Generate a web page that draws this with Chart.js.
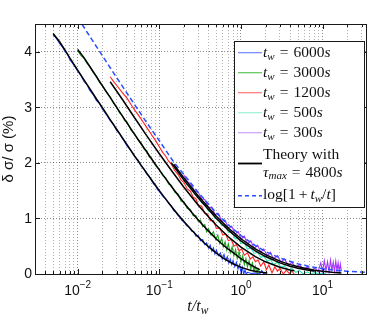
<!DOCTYPE html>
<html>
<head>
<meta charset="utf-8">
<script src="https://cdn.jsdelivr.net/npm/chart.js@4.4.1/dist/chart.umd.min.js"></script>
<style>
  html, body { margin: 0; padding: 0; background: #fff; }
  canvas { display: block; }
</style>
</head>
<body>
<canvas id="chart" width="374" height="321"></canvas>
<script>
// x = t/tw , y = delta sigma / sigma in %
const blueX = [0.005,0.0055,0.006,0.0065,0.007,0.0075,0.008,0.009,0.01,0.011,0.012,0.013,0.014,0.0155,0.017,0.0185,0.02,0.0225,0.025,0.0275,0.03,0.0325,0.035,0.0375,0.04,0.045,0.05,0.055,0.06,0.065,0.07,0.075,0.08,0.085,0.09,0.095,0.1,0.11,0.12,0.13,0.14,0.15,0.16,0.17,0.18,0.19,0.2,0.215,0.23,0.25,0.265,0.28,0.3,0.32,0.34,0.36,0.38,0.4,0.42,0.44,0.46,0.48,0.5,0.53,0.56,0.59,0.62,0.65,0.68,0.71,0.74,0.77,0.8,0.84,0.88,0.92,0.96,1.0,1.04,1.08,1.12,1.16,1.2,1.35,1.5,1.7,1.8,1.9,2.0];
const blueY = [4.30,4.24,4.15,4.09,4.00,3.96,3.86,3.76,3.65,3.57,3.46,3.41,3.31,3.23,3.12,3.07,2.97,2.87,2.76,2.69,2.58,2.53,2.45,2.38,2.31,2.22,2.11,2.05,1.94,1.89,1.80,1.76,1.69,1.62,1.59,1.52,1.49,1.40,1.35,1.27,1.23,1.14,1.11,1.05,1.02,0.96,0.95,0.87,0.85,0.77,0.76,0.68,0.69,0.60,0.62,0.53,0.56,0.47,0.52,0.41,0.47,0.36,0.43,0.33,0.38,0.27,0.35,0.24,0.31,0.20,0.27,0.17,0.24,0.13,0.21,0.09,0.17,0.04,0.12,0.00,0.07,0.00,0.03,0.01,0.02,0.00,0.06,0.00,0.03];

const greenX = [0.01,0.011,0.012,0.013,0.014,0.0155,0.017,0.0185,0.02,0.0225,0.025,0.0275,0.03,0.0325,0.035,0.0375,0.04,0.045,0.05,0.055,0.06,0.065,0.07,0.075,0.08,0.09,0.1,0.11,0.12,0.13,0.14,0.155,0.17,0.185,0.2,0.22,0.24,0.26,0.28,0.3,0.32,0.34,0.36,0.38,0.4,0.43,0.46,0.49,0.52,0.55,0.58,0.61,0.64,0.67,0.7,0.74,0.78,0.82,0.86,0.9,0.95,1.0,1.05,1.1,1.15,1.2,1.26,1.32,1.38,1.44,1.5,1.56,1.62,1.7];
const greenY = [4.02,3.93,3.88,3.79,3.74,3.63,3.56,3.45,3.40,3.27,3.19,3.07,3.01,2.90,2.86,2.76,2.74,2.59,2.52,2.41,2.36,2.25,2.22,2.11,2.09,1.95,1.88,1.77,1.73,1.62,1.60,1.47,1.44,1.31,1.30,1.18,1.16,1.05,1.05,0.95,0.97,0.85,0.89,0.76,0.82,0.70,0.76,0.62,0.70,0.55,0.64,0.49,0.58,0.43,0.54,0.38,0.49,0.33,0.44,0.28,0.40,0.22,0.33,0.17,0.28,0.13,0.24,0.09,0.20,0.06,0.14,0.03,0.09,0.02];

const redX = [0.025,0.028,0.031,0.035,0.04,0.045,0.05,0.056,0.063,0.07,0.08,0.09,0.1,0.11,0.12,0.13,0.14,0.155,0.17,0.185,0.2,0.22,0.24,0.26,0.28,0.3,0.33,0.36,0.39,0.42,0.46,0.5,0.55,0.6,0.65,0.7,0.76,0.82,0.88,0.95,1.02,1.1,1.2,1.3,1.4,1.5,1.62,1.75,1.9,2.05,2.2,2.4,2.6,2.8,3.0,3.3,3.6,3.9,4.2,4.5];
const redY = [3.55,3.45,3.37,3.27,3.17,3.05,2.95,2.85,2.74,2.64,2.51,2.40,2.29,2.19,2.12,2.03,1.98,1.86,1.79,1.69,1.65,1.53,1.49,1.38,1.36,1.24,1.22,1.09,1.08,0.96,0.96,0.82,0.83,0.70,0.72,0.60,0.62,0.50,0.53,0.42,0.45,0.34,0.38,0.27,0.31,0.22,0.25,0.14,0.22,0.08,0.16,0.02,0.13,0.05,0.10,0.00,0.07,0.01,0.05,0.00];

const cyanX = [0.14,0.155,0.17,0.185,0.2,0.22,0.24,0.27,0.3,0.33,0.36,0.4,0.44,0.48,0.53,0.58,0.64,0.7,0.77,0.85,0.93,1.0,1.1,1.2,1.32,1.45,1.6,1.75,1.9,2.1,2.3,2.5,2.8,3.1,3.4,3.8,4.2,4.7,5.2,5.8,6.5,7.2,8.0,9.0,10,11];
const cyanY = [2.02,1.90,1.86,1.75,1.72,1.60,1.57,1.44,1.40,1.28,1.26,1.13,1.12,1.00,1.00,0.87,0.88,0.75,0.76,0.63,0.64,0.55,0.56,0.45,0.47,0.37,0.39,0.30,0.32,0.23,0.26,0.17,0.21,0.12,0.15,0.07,0.10,0.03,0.06,0.00,0.04,0.00,0.03,0.00,0.02,0.00];

const purpleX = [0.2,0.22,0.24,0.27,0.3,0.33,0.36,0.4,0.44,0.48,0.53,0.58,0.64,0.7,0.77,0.85,0.93,1.0,1.1,1.2,1.32,1.45,1.6,1.75,1.9,2.1,2.3,2.5,2.8,3.1,3.4,3.8,4.2,4.7,5.2,5.8,6.5,7.2,8.0,8.8,9.5,10,10.5,11,11.5,12,12.5,13,13.5,14,14.5,15,15.5,16,16.5,17];
const purpleY = [1.78,1.66,1.63,1.50,1.47,1.35,1.34,1.20,1.20,1.07,1.09,0.95,0.97,0.83,0.86,0.72,0.76,0.63,0.68,0.54,0.60,0.46,0.52,0.39,0.45,0.33,0.39,0.27,0.33,0.21,0.27,0.16,0.21,0.12,0.17,0.08,0.13,0.06,0.11,0.04,0.20,0.05,0.24,0.06,0.22,0.04,0.25,0.07,0.21,0.05,0.23,0.06,0.20,0.04,0.18,0.05];

// theory curves, tau_max = 4800 s
const theory6000X = [0.005,0.006,0.007,0.008,0.01,0.012,0.014,0.017,0.02,0.025,0.03,0.035,0.04,0.05,0.06,0.07,0.08,0.09,0.1,0.12,0.14,0.17,0.2,0.25,0.3,0.35,0.4,0.45,0.5,0.6,0.7,0.8,0.9,1.0,1.15,1.3,1.6,2.1];
const theory6000Y = [4.33,4.18,4.03,3.89,3.67,3.49,3.34,3.15,3.00,2.78,2.605,2.458,2.332,2.12,1.956,1.816,1.697,1.593,1.50,1.347,1.22,1.066,0.944,0.786,0.665,0.567,0.49,0.43,0.377,0.291,0.230,0.185,0.150,0.1215,0.092,0.066,0.039,0.0175];
const theory3000X = [0.01,0.012,0.014,0.017,0.02,0.025,0.03,0.035,0.04,0.05,0.06,0.07,0.08,0.1,0.12,0.14,0.17,0.2,0.25,0.3,0.35,0.4,0.5,0.6,0.7,0.85,1.0,1.15,1.3,1.5,1.7];
const theory3000Y = [4.04,3.89,3.74,3.55,3.39,3.18,3.00,2.85,2.725,2.51,2.34,2.20,2.075,1.874,1.713,1.58,1.417,1.283,1.107,0.972,0.862,0.772,0.629,0.527,0.446,0.356,0.275,0.22,0.17,0.12,0.08];
const theory1200X = [0.025,0.035,0.05,0.07,0.1,0.14,0.2,0.3,0.4,0.5,0.7,1,1.5,2,3,4,4.5];
const theory1200Y = [3.46,3.15,2.808,2.49,2.165,1.868,1.562,1.238,1.029,0.877,0.671,0.4845,0.313,0.2195,0.121,0.073,0.058];
const theory500X = [0.14,0.2,0.3,0.5,0.7,1,1.5,2,3,4,5,6,8];
const theory500Y = [2.00,1.69,1.366,1.00,0.79,0.597,0.417,0.314,0.200,0.140,0.102,0.080,0.050];
const theory300X = [0.15,0.2,0.3,0.5,0.7,1,1.5,2,3,4,6,8,10,13,17];
const theory300Y = [1.976,1.73,1.405,1.038,0.827,0.634,0.452,0.3475,0.2316,0.169,0.103,0.066,0.050,0.032,0.018];

// log[1 + tw/t]
const logX = [0.01,0.015,0.02,0.03,0.05,0.07,0.1,0.15,0.2,0.3,0.5,0.7,1,1.5,2,3,5,7,10,15,20,35];
const logY = [4.615,4.215,3.932,3.536,3.045,2.725,2.398,2.015,1.792,1.466,1.099,0.887,0.693,0.511,0.405,0.288,0.182,0.134,0.0953,0.0645,0.0488,0.0282];

const decades = [0.001, 0.01, 0.1, 1, 10];
const mantissas = [1, 2, 3, 4, 5, 6, 7, 8, 9];
const xLabelExps = [-2, -1, 0, 1];
const yTicks = [0, 1, 2, 3, 4];
const twLabels = ['6000', '3000', '1200', '500', '300'];
const dataColors = ['#1f3dff', '#1ea01e', '#ff2020', '#36e2b4', '#a335ff'];
const legendColors = ['#6f86ff', '#5cc45c', '#ff7474', '#9cf2d8', '#cf9fff'];

const xMin = 0.003, xMax = 35;
const xGrid = [];
decades.forEach(d => mantissas.forEach(m => {
  const v = +(m * d).toPrecision(3);
  if (v >= xMin && v <= xMax) xGrid.push(v);
}));
const isDecade = v => decades.includes(v);

function pts(xs, ys) {
  return xs.map((x, i) => ({x: x, y: ys[i]}));
}

const seriesX = [blueX, greenX, redX, cyanX, purpleX];
const seriesY = [blueY, greenY, redY, cyanY, purpleY];
const datasets = [];
seriesX.forEach((xs, i) => {
  datasets.push({
    data: pts(xs, seriesY[i]),
    borderColor: dataColors[i],
    borderWidth: 1.1,
    order: 2 + (4 - i)
  });
});
[[theory6000X, theory6000Y], [theory3000X, theory3000Y], [theory1200X, theory1200Y],
 [theory500X, theory500Y], [theory300X, theory300Y]].forEach(c => {
  datasets.push({data: pts(c[0], c[1]), borderColor: '#000', borderWidth: 1.5, order: 1});
});
datasets.push({data: pts(logX, logY), borderColor: '#2a4dff', borderWidth: 1.5, borderDash: [5, 3], order: 0});

const SERIF = '"Liberation Serif", "DejaVu Serif", serif';
const SANS = '"Liberation Sans", Arial, sans-serif';

function rich(ctx, x, y, parts) {
  parts.forEach(p => {
    ctx.font = p.f;
    if (p.gap) x += p.gap;
    ctx.fillText(p.t, x, y + (p.dy || 0));
    x += ctx.measureText(p.t).width;
  });
  return x;
}

const it = s => 'italic ' + s + 'px ' + SERIF;
const rm = s => s + 'px ' + SERIF;
const FS = 15.5, SUB = 11;

const frame = {
  id: 'frame',
  afterDraw(chart) {
    const {ctx, chartArea: a, scales: {x, y}} = chart;
    ctx.save();
    ctx.strokeStyle = '#1a1a1a';
    ctx.lineWidth = 1;
    ctx.strokeRect(a.left + 0.5, a.top + 0.5, a.right - a.left - 1, a.bottom - a.top);

    // inward tick marks
    ctx.beginPath();
    xGrid.forEach(v => {
      const px = Math.round(x.getPixelForValue(v)) + 0.5;
      const len = isDecade(v) ? 5 : 3;
      ctx.moveTo(px, a.bottom); ctx.lineTo(px, a.bottom - len);
      ctx.moveTo(px, a.top); ctx.lineTo(px, a.top + len);
    });
    yTicks.forEach(v => {
      const py = Math.round(y.getPixelForValue(v)) + 0.5;
      ctx.moveTo(a.left, py); ctx.lineTo(a.left + 5, py);
      ctx.moveTo(a.right, py); ctx.lineTo(a.right - 5, py);
    });
    ctx.stroke();

    // tick labels
    ctx.fillStyle = '#111';
    ctx.textAlign = 'right';
    ctx.textBaseline = 'middle';
    ctx.font = '14px ' + SANS;
    yTicks.forEach(v => ctx.fillText(String(v), a.left - 3, y.getPixelForValue(v) + 0.5));

    ctx.textAlign = 'left';
    ctx.textBaseline = 'alphabetic';
    xLabelExps.forEach(e => {
      const px = x.getPixelForValue(Math.pow(10, e));
      const ex = e < 0 ? '\u2212' + (-e) : String(e);
      ctx.font = '14px ' + SANS;
      const w1 = ctx.measureText('10').width;
      ctx.font = '10px ' + SANS;
      const w2 = ctx.measureText(ex).width;
      const x0 = px - (w1 + w2) / 2;
      ctx.font = '14px ' + SANS;
      ctx.fillText('10', x0, 295);
      ctx.font = '10px ' + SANS;
      ctx.fillText(ex, x0 + w1, 288);
    });

    // axis titles
    ctx.font = it(16);
    const wt = ctx.measureText('t/t').width + 8;
    rich(ctx, 198 - wt / 2, 311, [
      {t: 't/t', f: it(16)},
      {t: 'w', f: it(11.5), dy: 3}
    ]);

    ctx.save();
    ctx.translate(13, (a.top + a.bottom) / 2);
    ctx.rotate(-Math.PI / 2);
    ctx.textAlign = 'center';
    ctx.font = '15px ' + SANS;
    ctx.fillText('\u03b4 \u03c3/ \u03c3 (%)', 0, 0);
    ctx.restore();

    // legend
    const lx = 234, ly = 41, lw = 131, lh = 167;
    ctx.fillStyle = '#fff';
    ctx.fillRect(lx, ly, lw, lh);
    ctx.strokeStyle = '#1a1a1a';
    ctx.lineWidth = 1;
    ctx.strokeRect(lx + 0.5, ly + 0.5, lw - 1, lh - 1);
    ctx.fillStyle = '#111';
    const sx0 = 238, sx1 = 262, tx = 263;
    twLabels.forEach((lab, i) => {
      const cy = 52.7 + i * 20;
      ctx.strokeStyle = legendColors[i];
      ctx.lineWidth = 1.2;
      ctx.beginPath(); ctx.moveTo(sx0, cy); ctx.lineTo(sx1, cy); ctx.stroke();
      rich(ctx, tx, cy + 4.5, [
        {t: 't', f: it(FS)},
        {t: 'w', f: it(SUB), dy: 2.5},
        {t: '=', f: rm(FS), gap: 5},
        {t: lab, f: rm(FS), gap: 5},
        {t: 's', f: it(FS)}
      ]);
    });
    ctx.strokeStyle = '#000';
    ctx.lineWidth = 1.8;
    ctx.beginPath(); ctx.moveTo(sx0, 163.5); ctx.lineTo(sx1, 163.5); ctx.stroke();
    rich(ctx, tx, 158.5, [{t: 'Theory with', f: rm(FS)}]);
    rich(ctx, tx, 176.5, [
      {t: '\u03c4', f: it(FS)},
      {t: 'max', f: it(SUB), dy: 2.5},
      {t: '=', f: rm(FS), gap: 5},
      {t: '4800', f: rm(FS), gap: 5},
      {t: 's', f: it(FS)}
    ]);
    ctx.strokeStyle = '#2a4dff';
    ctx.lineWidth = 1.4;
    ctx.setLineDash([4, 3]);
    ctx.beginPath(); ctx.moveTo(sx0, 195.7); ctx.lineTo(sx1, 195.7); ctx.stroke();
    ctx.setLineDash([]);
    rich(ctx, tx, 199, [
      {t: 'log[1', f: rm(FS)},
      {t: '+', f: rm(FS), gap: 3},
      {t: 't', f: it(FS), gap: 3},
      {t: 'w', f: it(SUB), dy: 2.5},
      {t: '/', f: rm(FS)},
      {t: 't', f: it(FS)},
      {t: ']', f: rm(FS)}
    ]);
    ctx.restore();
  }
};

new Chart(document.getElementById('chart').getContext('2d'), {
  type: 'scatter',
  data: {datasets: datasets},
  options: {
    responsive: false,
    animation: false,
    showLine: true,
    elements: {point: {radius: 0}, line: {tension: 0, fill: false}},
    layout: {padding: {left: 35, right: 7, top: 24, bottom: 47}},
    plugins: {legend: {display: false}, tooltip: {enabled: false}},
    scales: {
      x: {
        type: 'logarithmic',
        min: xMin,
        max: xMax,
        afterBuildTicks: s => { s.ticks = xGrid.map(v => ({value: v})); },
        ticks: {display: false},
        grid: {
          drawTicks: false,
          color: c => (c.tick && isDecade(c.tick.value)) ? 'rgba(0,0,0,0.45)' : 'rgba(0,0,0,0.3)'
        },
        border: {display: false, dash: [1, 2]}
      },
      y: {
        min: 0,
        max: 4.5,
        afterBuildTicks: s => { s.ticks = yTicks.map(v => ({value: v})); },
        ticks: {display: false},
        grid: {drawTicks: false, color: 'rgba(0,0,0,0.45)'},
        border: {display: false, dash: [1, 2]}
      }
    }
  },
  plugins: [frame]
});
</script>
</body>
</html>
